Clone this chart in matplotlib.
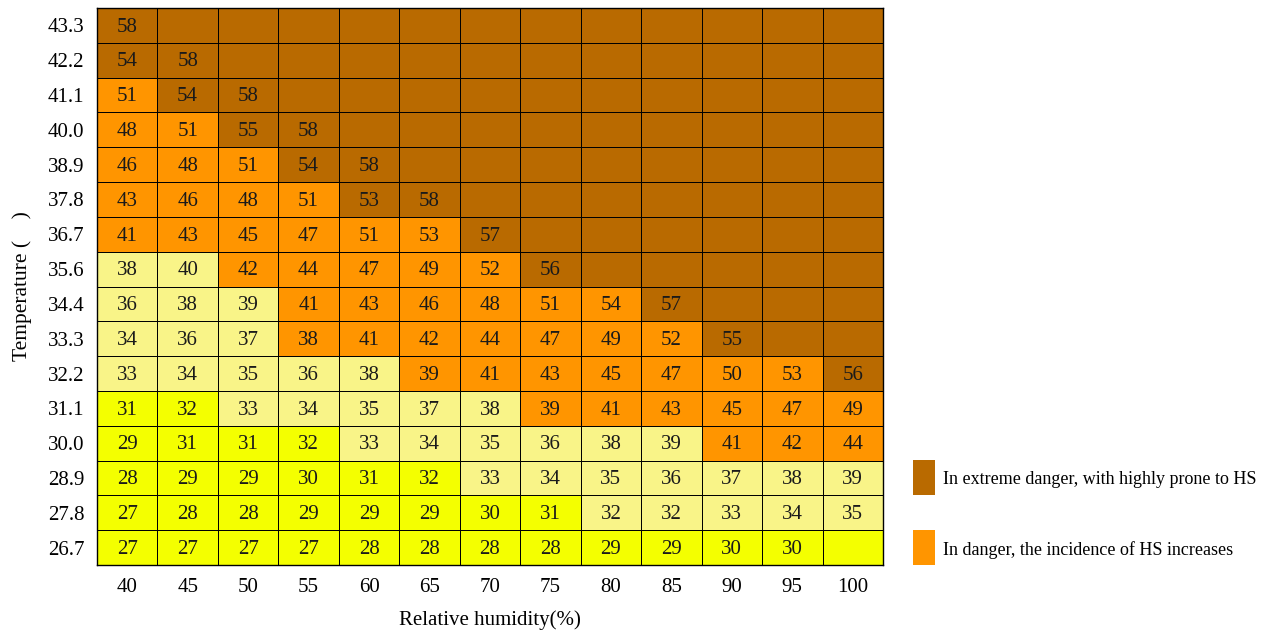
import numpy as np
import matplotlib
matplotlib.use("Agg")
import matplotlib.pyplot as plt
from matplotlib.colors import ListedColormap
from matplotlib.patches import Rectangle

# Heat index table: rows are air temperature (top = hottest), columns relative humidity
humidity = [40, 45, 50, 55, 60, 65, 70, 75, 80, 85, 90, 95, 100]
temperature = ["43.3", "42.2", "41.1", "40.0", "38.9", "37.8", "36.7", "35.6",
               "34.4", "33.3", "32.2", "31.1", "30.0", "28.9", "27.8", "26.7"]

N = None
heat_index = [
    [58, N, N, N, N, N, N, N, N, N, N, N, N],
    [54, 58, N, N, N, N, N, N, N, N, N, N, N],
    [51, 54, 58, N, N, N, N, N, N, N, N, N, N],
    [48, 51, 55, 58, N, N, N, N, N, N, N, N, N],
    [46, 48, 51, 54, 58, N, N, N, N, N, N, N, N],
    [43, 46, 48, 51, 53, 58, N, N, N, N, N, N, N],
    [41, 43, 45, 47, 51, 53, 57, N, N, N, N, N, N],
    [38, 40, 42, 44, 47, 49, 52, 56, N, N, N, N, N],
    [36, 38, 39, 41, 43, 46, 48, 51, 54, 57, N, N, N],
    [34, 36, 37, 38, 41, 42, 44, 47, 49, 52, 55, N, N],
    [33, 34, 35, 36, 38, 39, 41, 43, 45, 47, 50, 53, 56],
    [31, 32, 33, 34, 35, 37, 38, 39, 41, 43, 45, 47, 49],
    [29, 31, 31, 32, 33, 34, 35, 36, 38, 39, 41, 42, 44],
    [28, 29, 29, 30, 31, 32, 33, 34, 35, 36, 37, 38, 39],
    [27, 28, 28, 29, 29, 29, 30, 31, 32, 32, 33, 34, 35],
    [27, 27, 27, 27, 28, 28, 28, 28, 29, 29, 30, 30, N],
]

# 0 = caution, 1 = extreme caution, 2 = danger, 3 = extreme danger
risk_level = [
    [3, 3, 3, 3, 3, 3, 3, 3, 3, 3, 3, 3, 3],
    [3, 3, 3, 3, 3, 3, 3, 3, 3, 3, 3, 3, 3],
    [2, 3, 3, 3, 3, 3, 3, 3, 3, 3, 3, 3, 3],
    [2, 2, 3, 3, 3, 3, 3, 3, 3, 3, 3, 3, 3],
    [2, 2, 2, 3, 3, 3, 3, 3, 3, 3, 3, 3, 3],
    [2, 2, 2, 2, 3, 3, 3, 3, 3, 3, 3, 3, 3],
    [2, 2, 2, 2, 2, 2, 3, 3, 3, 3, 3, 3, 3],
    [1, 1, 2, 2, 2, 2, 2, 3, 3, 3, 3, 3, 3],
    [1, 1, 1, 2, 2, 2, 2, 2, 2, 3, 3, 3, 3],
    [1, 1, 1, 2, 2, 2, 2, 2, 2, 2, 3, 3, 3],
    [1, 1, 1, 1, 1, 2, 2, 2, 2, 2, 2, 2, 3],
    [0, 0, 1, 1, 1, 1, 1, 2, 2, 2, 2, 2, 2],
    [0, 0, 0, 0, 1, 1, 1, 1, 1, 1, 2, 2, 2],
    [0, 0, 0, 0, 0, 0, 1, 1, 1, 1, 1, 1, 1],
    [0, 0, 0, 0, 0, 0, 0, 0, 1, 1, 1, 1, 1],
    [0, 0, 0, 0, 0, 0, 0, 0, 0, 0, 0, 0, 0],
]

legend_labels = ["In extreme danger, with highly prone to HS",
                 "In danger, the incidence of HS increases"]

colors = ["#F4FF00", "#F9F488", "#FF9500", "#B96A00"]

plt.rcParams["font.family"] = ["Liberation Serif", "DejaVu Serif"]

fig = plt.figure(figsize=(12.71, 6.32), dpi=100)
ax = fig.add_axes([0.0763, 0.106, 0.6184, 0.8813])

levels = np.array(risk_level)
nrows, ncols = levels.shape
ax.pcolormesh(np.arange(ncols + 1), np.arange(nrows + 1), levels,
              cmap=ListedColormap(colors), vmin=-0.5, vmax=3.5,
              edgecolors="black", linewidth=0.6)

for r, row in enumerate(heat_index):
    for c, v in enumerate(row):
        if v is not None:
            ax.text(c + 0.5, r + 0.55, str(v), ha="center", va="center",
                    fontsize=15, color="#1a1a1a")

ax.set_xlim(0, ncols)
ax.set_ylim(nrows, 0)
ax.set_xticks(np.arange(ncols) + 0.5)
ax.set_xticklabels([str(h) for h in humidity], fontsize=15)
ax.set_yticks(np.arange(nrows) + 0.5)
ax.set_yticklabels(temperature, fontsize=15)
ax.tick_params(length=0, pad=9)
for s in ax.spines.values():
    s.set_linewidth(1.0)

ax.set_xlabel("Relative humidity(%)", fontsize=15, labelpad=10)
ax.set_ylabel("Temperature (    )", fontsize=15.5, labelpad=11)

# legend swatches drawn in figure coordinates
W, H = fig.get_size_inches() * fig.dpi
for i, (lab, col) in enumerate(zip(legend_labels, [colors[3], colors[2]])):
    y0 = 460 + i * 70
    fig.add_artist(Rectangle((913 / W, 1 - (y0 + 35) / H), 22 / W, 35 / H,
                             transform=fig.transFigure, facecolor=col,
                             edgecolor="none"))
    fig.text(943 / W, 1 - (y0 + 20) / H, lab, fontsize=13, va="center",
             ha="left")

fig.savefig("out.png", dpi=100)
